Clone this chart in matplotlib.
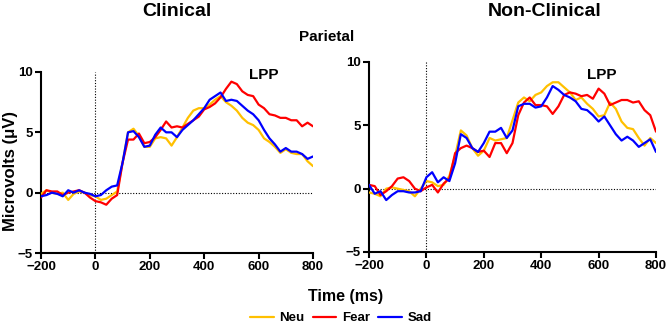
import numpy as np
import matplotlib
matplotlib.use("Agg")
import matplotlib.pyplot as plt

plt.rcParams['font.family'] = ['Liberation Sans', 'DejaVu Sans']
plt.rcParams['font.weight'] = 'bold'

# time axis, 20 ms steps
time_ms = np.arange(-200, 801, 20)

# Clinical group
clin_neu = [-0.1, 0.2, 0.0, -0.1, 0.0, -0.6, -0.1, 0.1, 0.0, -0.2,
            -0.3, -0.6, -0.5, -0.2, 0.1, 2.5, 5.0, 5.3, 4.7, 3.8,
            3.8, 4.5, 4.6, 4.5, 3.9, 4.6, 5.4, 6.2, 6.8, 7.0,
            7.0, 7.3, 7.7, 8.0, 7.5, 7.2, 6.8, 6.2, 5.8, 5.6,
            5.2, 4.5, 4.2, 3.8, 3.3, 3.6, 3.3, 3.2, 3.2, 2.6, 2.2]
clin_fear = [-0.4, 0.2, 0.1, 0.1, -0.2, 0.0, 0.1, 0.2, 0.0, -0.4,
             -0.7, -0.8, -1.0, -0.5, -0.2, 2.5, 4.4, 4.4, 4.9, 4.1,
             4.2, 4.6, 5.2, 5.9, 5.4, 5.5, 5.4, 5.7, 6.0, 6.3,
             6.9, 7.1, 7.4, 7.9, 8.6, 9.2, 9.0, 8.4, 8.1, 8.0,
             7.3, 7.0, 6.5, 6.4, 6.2, 6.2, 6.0, 6.0, 5.5, 5.8, 5.5]
clin_sad = [-0.3, -0.2, 0.0, -0.1, -0.3, 0.2, 0.0, 0.2, 0.0, -0.1,
            -0.3, -0.2, 0.2, 0.5, 0.6, 2.5, 5.0, 5.1, 4.6, 3.8,
            3.9, 4.8, 5.4, 5.0, 5.0, 4.6, 5.2, 5.6, 6.0, 6.5,
            7.0, 7.7, 8.0, 8.3, 7.6, 7.7, 7.6, 7.2, 6.8, 6.5,
            6.0, 5.2, 4.5, 4.0, 3.4, 3.7, 3.4, 3.4, 3.2, 2.8, 3.0]

# Non-clinical group
nonclin_neu = [-0.3, -0.4, -0.6, 0.0, 0.1, 0.0, -0.1, -0.2, -0.6, 0.0,
               0.6, 0.5, 0.2, 0.3, 1.0, 2.6, 4.6, 4.2, 3.2, 2.6,
               3.0, 4.0, 3.8, 3.9, 4.0, 5.4, 6.8, 7.2, 6.9, 7.4,
               7.6, 8.1, 8.4, 8.4, 8.0, 7.6, 7.0, 7.2, 6.7, 6.3,
               5.7, 5.8, 6.8, 6.3, 5.3, 4.8, 4.7, 4.0, 3.4, 4.0, 3.6]
nonclin_fear = [0.3, 0.2, -0.5, -0.2, 0.2, 0.8, 0.9, 0.6, 0.0, -0.2,
                0.1, 0.3, -0.3, 0.4, 0.8, 2.8, 3.2, 3.4, 3.2, 2.9,
                3.0, 2.5, 3.6, 3.6, 2.8, 3.6, 5.8, 6.8, 7.2, 6.6,
                6.6, 6.5, 5.9, 6.5, 7.4, 7.6, 7.5, 7.3, 7.4, 7.1,
                7.9, 7.5, 6.6, 6.8, 7.0, 7.0, 6.8, 6.9, 6.2, 5.8, 4.5]
nonclin_sad = [0.3, -0.4, -0.2, -0.9, -0.5, -0.2, -0.2, -0.3, -0.3, -0.2,
               0.9, 1.3, 0.5, 0.9, 0.6, 2.0, 4.3, 4.0, 3.2, 2.9,
               3.6, 4.5, 4.5, 4.8, 4.0, 4.6, 6.5, 6.7, 6.7, 6.4,
               6.5, 7.2, 8.1, 7.8, 7.4, 7.2, 6.9, 6.3, 6.2, 5.8,
               5.3, 5.7, 5.0, 4.3, 3.8, 4.1, 3.8, 3.3, 3.6, 3.9, 2.9]

cond_names = ['Neu', 'Fear', 'Sad']
cond_colors = ['#FFC000', '#FF0000', '#0000FF']
xticks = [-200, 0, 200, 400, 600, 800]
yticks = [-5, 0, 5, 10]

W, H = 670, 326
fig = plt.figure(figsize=(W / 100, H / 100), dpi=100)

panels = [
    ('Clinical', (41, 313, 72, 253), [clin_neu, clin_fear, clin_sad], 177, (618, 9.75)),
    ('Non-Clinical', (369, 656, 62, 252), [nonclin_neu, nonclin_fear, nonclin_sad], 545, (612, 9.0)),
]

lines = []
for title, (x0, x1, y0, y1), series, tx, lpp in panels:
    ax = fig.add_axes([x0 / W, 1 - y1 / H, (x1 - x0) / W, (y1 - y0) / H])
    ax.axhline(0, color='black', lw=0.8, ls=(0, (1, 1.5)), zorder=1)
    ax.axvline(0, color='black', lw=0.8, ls=(0, (1, 1.5)), zorder=1)
    lines = []
    for vals, c, n in zip(series, cond_colors, cond_names):
        l, = ax.plot(time_ms, vals, color=c, lw=1.6, label=n, zorder=3,
                     solid_joinstyle='round', solid_capstyle='round')
        lines.append(l)
    ax.set_xlim(-200, 800)
    ax.set_ylim(-5, 10)
    ax.set_xticks(xticks)
    ax.set_yticks(yticks)
    for s in ['top', 'right']:
        ax.spines[s].set_visible(False)
    for s in ['left', 'bottom']:
        ax.spines[s].set_linewidth(1.5)
    ax.tick_params(width=1.5, length=4, labelsize=9.5, pad=2)
    for lab in ax.get_xticklabels() + ax.get_yticklabels():
        lab.set_fontweight('bold')
    ax.text(lpp[0], lpp[1], 'LPP', ha='center', va='center', fontsize=11, fontweight='bold')
    fig.text(tx / W, 1 - 11 / H, title, ha='center', va='center', fontsize=14, fontweight='bold')

fig.text(327 / W, 1 - 37 / H, 'Parietal', ha='center', va='center', fontsize=11, fontweight='bold')
fig.text(346 / W, 1 - 297 / H, 'Time (ms)', ha='center', va='center', fontsize=11.5, fontweight='bold')
fig.text(11 / W, 1 - 171 / H, 'Microvolts (\u03bcV)', ha='center', va='center', rotation=90,
         fontsize=12, fontweight='bold')

leg = fig.legend(lines, cond_names, loc='center', bbox_to_anchor=(341 / W, 1 - 318 / H), ncol=3,
                 frameon=False, handlelength=1.8, handletextpad=0.45, columnspacing=0.6,
                 borderpad=0, prop={'weight': 'bold', 'size': 9.5})

fig.savefig('out.png', dpi=100)
